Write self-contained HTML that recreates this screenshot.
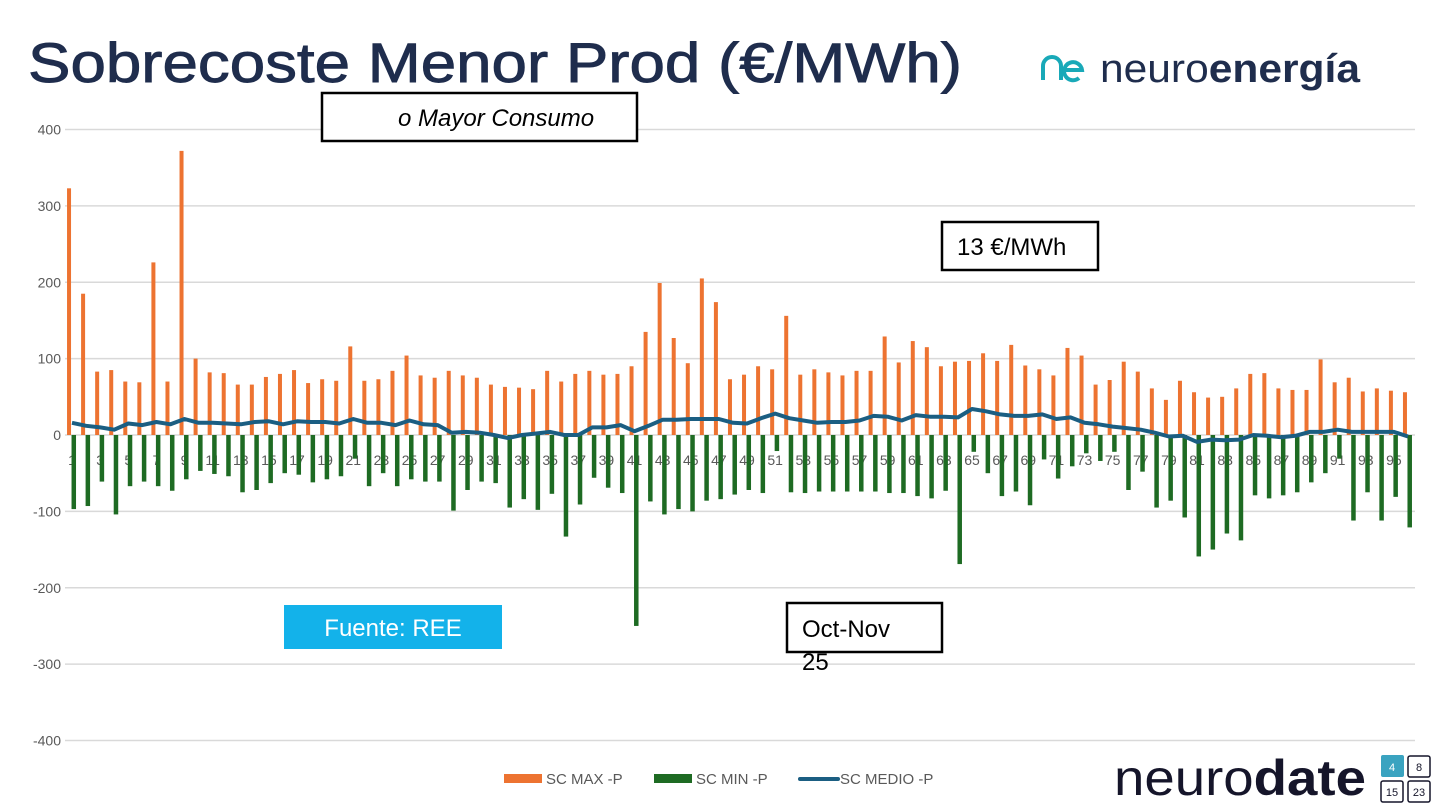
<!DOCTYPE html>
<html><head><meta charset="utf-8">
<style>
html,body{margin:0;padding:0;background:#fff;width:1440px;height:810px;overflow:hidden;font-family:"Liberation Sans",sans-serif;}
svg{display:block}
</style></head>
<body>
<svg id="chart" width="1440" height="810" viewBox="0 0 1440 810" xmlns="http://www.w3.org/2000/svg">
  <text x="28" y="82" font-size="56" fill="#1f2d4d" stroke="#1f2d4d" stroke-width="0.9" textLength="934" lengthAdjust="spacingAndGlyphs">Sobrecoste Menor Prod (€/MWh)</text>
  <g>
    <path d="M1043 80 V66 a9 9 0 0 1 18 0 V80" fill="none" stroke="#19a9b8" stroke-width="4"/>
    <path d="M1064 70 H1082 a9 9 0 1 0 -3 8" fill="none" stroke="#19a9b8" stroke-width="4"/>
    <text x="1100" y="82" font-size="40" fill="#1f2d4d" textLength="260" lengthAdjust="spacingAndGlyphs">neuro<tspan font-weight="bold">energía</tspan></text>
  </g>
  <g id="grid"></g>
  <g id="yaxis"></g>
  <g id="xaxis"></g>
  <g id="bars"></g>
  <g id="line"></g>

  <g>
    <rect x="322" y="93" width="315" height="48" fill="#fff" stroke="#000" stroke-width="2.5"/>
    <text x="398" y="126" font-size="24" font-style="italic" fill="#000">o Mayor Consumo</text>
  </g>
  <g>
    <rect x="942" y="222" width="156" height="48" fill="#fff" stroke="#000" stroke-width="2.5"/>
    <text x="957" y="255" font-size="24" fill="#000">13 €/MWh</text>
  </g>
  <g>
    <rect x="787" y="603" width="155" height="49" fill="#fff" stroke="#000" stroke-width="2.5"/>
    <text x="802" y="637" font-size="24" fill="#000">Oct-Nov</text>
    <text x="802" y="670" font-size="24" fill="#000">25</text>
  </g>
  <g>
    <rect x="284" y="605" width="218" height="44" fill="#13b2ea"/>
    <text x="393" y="636" font-size="24" fill="#fff" text-anchor="middle">Fuente: REE</text>
  </g>

  <g>
    <g>
      <rect x="504" y="774" width="38" height="9" fill="#ed7331"/>
      <text x="546" y="784" font-size="15" fill="#595959">SC MAX -P</text>
    </g>
    <g>
      <rect x="654" y="774" width="38" height="9" fill="#1e6b23"/>
      <text x="696" y="784" font-size="15" fill="#595959">SC MIN -P</text>
    </g>
    <g>
      <line x1="800" y1="779" x2="838" y2="779" stroke="#1b5e82" stroke-width="4" stroke-linecap="round"/>
      <text x="840" y="784" font-size="15" fill="#595959">SC MEDIO -P</text>
    </g>
  </g>

  <g>
    <text x="1114" y="795" font-size="50" fill="#15152a" textLength="252" lengthAdjust="spacingAndGlyphs">neuro<tspan font-weight="bold">date</tspan></text>
    <rect x="1381" y="755" width="23" height="22" fill="#3aa3c0" rx="2"/>
    <text x="1392" y="771" font-size="11" fill="#fff" text-anchor="middle">4</text>
    <rect x="1408" y="756" width="22" height="21" fill="#fff" stroke="#15152a" stroke-width="1.5" rx="2"/>
    <text x="1419" y="771" font-size="11" fill="#15152a" text-anchor="middle">8</text>
    <rect x="1381" y="781" width="22" height="21" fill="#fff" stroke="#15152a" stroke-width="1.5" rx="2"/>
    <text x="1392" y="796" font-size="11" fill="#15152a" text-anchor="middle">15</text>
    <rect x="1408" y="781" width="22" height="21" fill="#fff" stroke="#15152a" stroke-width="1.5" rx="2"/>
    <text x="1419" y="796" font-size="11" fill="#15152a" text-anchor="middle">23</text>
  </g>
</svg>
<script>
const yTicks = [400,300,200,100,0,-100,-200,-300,-400];
const maxValues = [323,185,83,85,70,69,226,70,372,100,82,81,66,66,76,80,85,68,73,71,116,71,73,84,104,78,75,84,78,75,66,63,62,60,84,70,80,84,79,80,90,135,199,127,94,205,174,73,79,90,86,156,79,86,82,78,84,84,129,95,123,115,90,96,97,107,97,118,91,86,78,114,104,66,72,96,83,61,46,71,56,49,50,61,80,81,61,59,59,99,69,75,57,61,58,56];
const minValues = [-97,-93,-61,-104,-67,-61,-67,-73,-58,-47,-51,-54,-75,-72,-63,-50,-52,-62,-58,-54,-31,-67,-50,-67,-58,-61,-61,-99,-72,-61,-63,-95,-84,-98,-77,-133,-91,-56,-69,-76,-250,-87,-104,-97,-100,-86,-84,-78,-72,-76,-21,-75,-76,-74,-74,-74,-74,-74,-76,-76,-80,-83,-73,-169,-22,-50,-80,-74,-92,-32,-57,-41,-24,-34,-22,-72,-48,-95,-86,-108,-159,-150,-129,-138,-79,-83,-79,-75,-62,-50,-31,-112,-75,-112,-81,-121];
const medioValues = [16,12,10,7,15,13,17,14,21,16,16,15,14,17,18,14,18,17,17,15,21,16,16,13,19,14,13,3,4,3,0,-4,0,2,4,0,0,10,10,13,5,12,20,20,21,21,21,16,15,22,28,22,19,16,17,17,19,25,24,19,26,24,24,23,34,31,27,25,25,27,21,23,16,14,11,9,7,3,-2,-1,-9,-6,-7,-6,0,-1,-3,-1,4,4,7,4,4,4,4,-2];
const categories = maxValues.map((_, i) => i + 1);

const NS = "http://www.w3.org/2000/svg";
const X0 = 65, X1 = 1415, Y0 = 435, PX = 305.5 / 400;
const band = (X1 - X0) / categories.length;
const xC = i => X0 + band * (i + 0.5);
const yS = v => Y0 - v * PX;
function mk(tag, attrs, parent) {
  const e = document.createElementNS(NS, tag);
  for (const k in attrs) e.setAttribute(k, attrs[k]);
  parent.appendChild(e);
  return e;
}
const grid = document.getElementById('grid'), yax = document.getElementById('yaxis'),
      xax = document.getElementById('xaxis'), bars = document.getElementById('bars'),
      lineG = document.getElementById('line');

yTicks.forEach(t => {
  const l = mk('line', {x1: X0, x2: X1, y1: yS(t), y2: yS(t), stroke: '#d9d9d9', 'stroke-width': 1.5}, grid);
  
  
  const tx = mk('text', {x: 61, y: yS(t) + 5, 'font-size': 14, fill: '#595959', 'text-anchor': 'end'}, yax);
  tx.textContent = t;
  
  
});

categories.forEach((c, i) => {
  const o = mk('rect', {x: xC(i) - 5, y: Math.min(yS(maxValues[i]), Y0), width: 4, height: Math.abs(maxValues[i] * PX), fill: '#ed7331'}, bars);
  
  
  const g = mk('rect', {x: xC(i) - 0.5, y: Math.min(yS(minValues[i]), Y0), width: 4.5, height: Math.abs(minValues[i] * PX), fill: '#1e6b23'}, bars);
  
  
  if (c % 2 === 1) {
    const t = mk('text', {x: xC(i), y: 465, 'font-size': 14, fill: '#595959', 'text-anchor': 'middle'}, xax);
    t.textContent = c;
    
    
  }
});

const pts = medioValues.map((v, i) => xC(i).toFixed(1) + ',' + yS(v).toFixed(1)).join(' ');
const pl = mk('polyline', {points: pts, fill: 'none', stroke: '#1b5e82', 'stroke-width': 4, 'stroke-linejoin': 'round'}, lineG);


</script>
</body></html>
